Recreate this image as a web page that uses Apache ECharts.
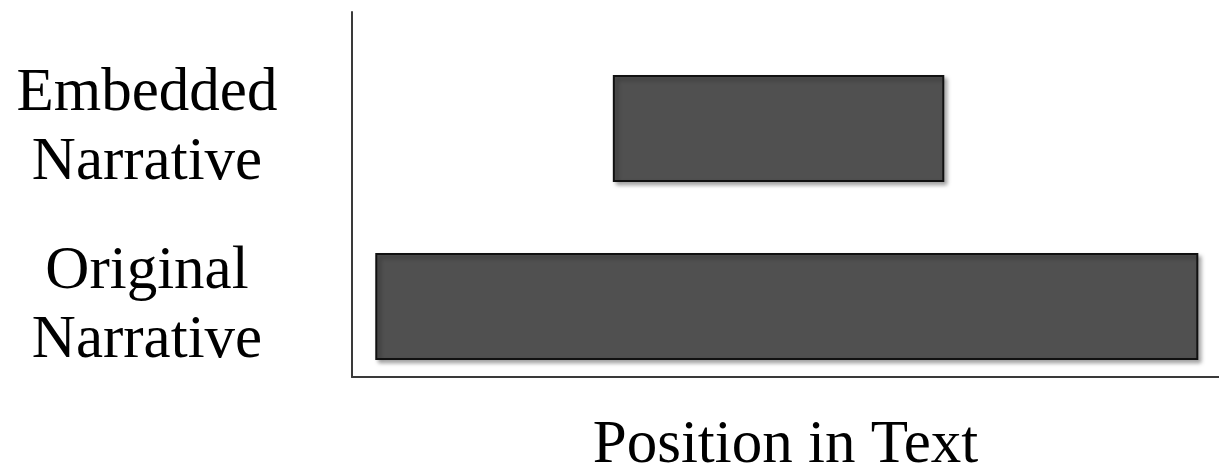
<!DOCTYPE html>
<html>
<head>
<meta charset="utf-8">
<script src="https://cdn.jsdelivr.net/npm/echarts@6/dist/echarts.min.js"></script>
<style>html,body{margin:0;padding:0;background:#fff;}#c{width:1219px;height:465px;}</style>
</head>
<body>
<div id="c"></div>
<script>
const categories = ['Original\nNarrative', 'Embedded\nNarrative'];
const startValues = [2.8, 30.2];
const endValues = [97.5, 68.2];
const xAxisName = 'Position in Text';

const data = categories.map((c, i) => [i, startValues[i], endValues[i]]);
const chart = echarts.init(document.getElementById('c'));
const FONT = "'Liberation Serif', 'Times New Roman', serif";
chart.setOption({
  animation: false,
  grid: { left: 352, right: 0, top: 12, bottom: 88, containLabel: false, outerBoundsMode: 'none' },
  xAxis: {
    type: 'value', min: 0, max: 100,
    axisLine: { show: true, onZero: false, lineStyle: { color: '#3a3a3a', width: 2 } },
    axisTick: { show: false }, axisLabel: { show: false }, splitLine: { show: false },
    name: xAxisName, nameLocation: 'middle', nameGap: 38,
    nameTextStyle: { fontFamily: FONT, fontSize: 61, color: '#000' }
  },
  yAxis: {
    type: 'value', min: -0.396, max: 1.654,
    axisLine: { show: true, onZero: false, lineStyle: { color: '#3a3a3a', width: 2 } },
    axisTick: { show: false }, splitLine: { show: false },
    axisLabel: {
      show: true, customValues: [0, 1],
      formatter: v => categories[Math.round(v)],
      fontFamily: FONT, fontSize: 61, lineHeight: 69, color: '#000',
      align: 'center', margin: 205, verticalAlign: 'middle'
    }
  },
  series: [{
    type: 'custom',
    encode: { x: [1, 2], y: 0 },
    data: data,
    renderItem: function (params, api) {
      const p0 = api.coord([api.value(1), api.value(0)]);
      const p1 = api.coord([api.value(2), api.value(0)]);
      const h = api.size([0, 0.59])[1];
      return {
        type: 'rect',
        shape: { x: p0[0], y: p0[1] - h / 2, width: p1[0] - p0[0], height: h },
        style: {
          fill: '#505050', stroke: '#111', lineWidth: 2,
          shadowBlur: 4, shadowOffsetX: 3, shadowOffsetY: 3, shadowColor: 'rgba(0,0,0,0.35)'
        }
      };
    }
  }]
});
</script>
</body>
</html>
